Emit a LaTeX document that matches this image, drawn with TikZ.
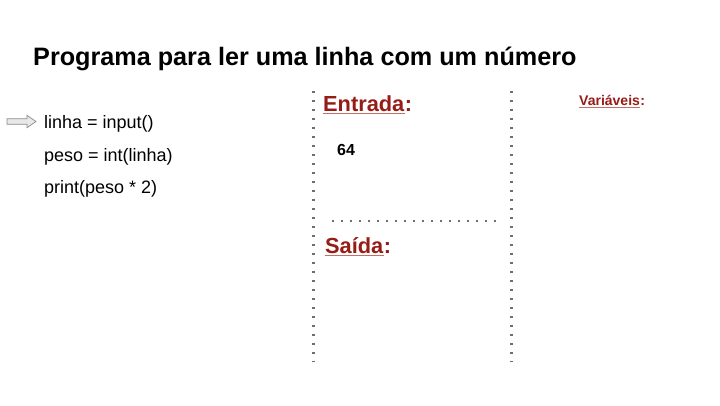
\documentclass[tikz,border=0pt]{standalone}
\usepackage{fontspec}
\setmainfont{Liberation Sans}
\definecolor{hdred}{RGB}{150,28,22}
\definecolor{ulred}{RGB}{196,110,104}
\definecolor{dotgray}{RGB}{110,110,110}
\tikzset{
  txt/.style={inner sep=0pt, anchor=base west},
  code/.style={txt, font=\fontsize{18}{21}\selectfont},
  hdr/.style={txt, font=\fontsize{21.8}{25}\selectfont\bfseries, text=hdred},
  hdrsmall/.style={txt, font=\fontsize{14}{16}\selectfont\bfseries, text=hdred},
  uline/.style={draw=ulred, line width=1.1pt},
  dotline/.style={draw=dotgray, line width=2.4pt, dash pattern=on 2.4pt off 6.6pt},
  ptr/.style={draw=gray!90, fill=gray!18, line width=0.7pt, line join=miter}
}
\begin{document}
\begin{tikzpicture}[x=1pt,y=-1pt]
\useasboundingbox (0,0) rectangle (720,405);
% title
\node[txt, font=\fontsize{25.2}{30}\selectfont\bfseries] (title) at (33,65) {Programa para ler uma linha com um número};
% pointer arrow
\coordinate (arrow) at (7,121.5);
\draw[ptr] (arrow) ++(0,-2.8) -- ++(20,0) -- ++(0,-3.4) -- ++(9,6.2) -- ++(-9,6.2) -- ++(0,-3.4) -- ++(-20,0) -- cycle;
% code
\node[code] (l1) at (44,128) {linha = input()};
\node[code] (l2) at (44,161) {peso = int(linha)};
\node[code] (l3) at (44,193) {print(peso * 2)};
% dotted lines
\coordinate (v1t) at (313.5,91);
\coordinate (v1b) at (313.5,362);
\coordinate (v2t) at (511.5,91);
\coordinate (v2b) at (511.5,362);
\coordinate (hl) at (332,221);
\coordinate (hr) at (497,221);
\draw[dotline] (v1t) -- (v1b);
\draw[dotline] (v2t) -- (v2b);
\draw[dotline] (hl) -- (hr);
% headers
\node[hdr] (entrada) at (323,111) {Entrada};
\node[hdr, anchor=base west] (ecolon) at (entrada.base east) {:};
\draw[uline] ([yshift=-2.5pt]entrada.base west) -- ([yshift=-2.5pt]entrada.base east);
\node[txt, font=\fontsize{16}{19}\selectfont\bfseries] (val) at (337,155) {64};
\node[hdr] (saida) at (325,253) {Saída};
\node[hdr, anchor=base west] (scolon) at (saida.base east) {:};
\draw[uline] ([yshift=-2.5pt]saida.base west) -- ([yshift=-2.5pt]saida.base east);
\node[hdrsmall] (vars) at (579,105.5) {Variáveis};
\node[hdrsmall, anchor=base west] (vcolon) at (vars.base east) {:};
\draw[uline, line width=0.9pt] ([yshift=-2pt]vars.base west) -- ([yshift=-2pt]vars.base east);
\end{tikzpicture}
\end{document}
